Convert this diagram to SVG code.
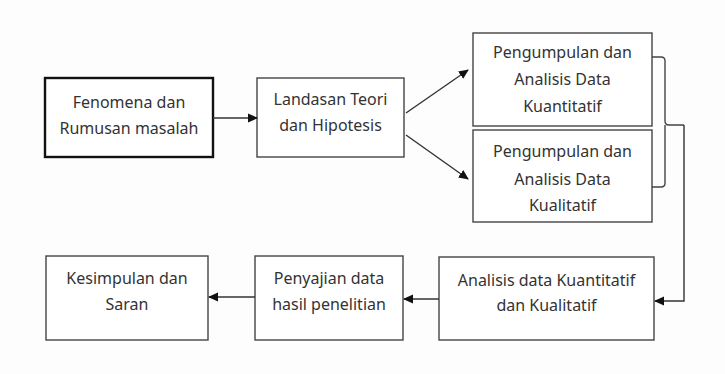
<svg xmlns="http://www.w3.org/2000/svg" width="725" height="374" viewBox="0 0 725 374">
<style>
.bg{fill:#fdfdfd}
.box{fill:#ffffff;stroke:#444;stroke-width:1.4}
.thick{fill:#ffffff;stroke:#111;stroke-width:2.4}
.t{font-family:"Noto Sans","Liberation Sans",sans-serif;font-size:16px;fill:#333;text-anchor:middle;font-variant-ligatures:none}
.ln{fill:none;stroke:#444;stroke-width:1.4}
.ar{fill:none;stroke:#333;stroke-width:1.4;marker-end:url(#ah)}
</style>
<defs>
<marker id="ah" markerWidth="10" markerHeight="10" refX="9" refY="5" orient="auto" markerUnits="userSpaceOnUse">
<path d="M0,0.5 L10,5 L0,9.5 Z" fill="#111"/>
</marker>
</defs>
<rect class="bg" x="0" y="0" width="725" height="374"/>
<g id="n1">
<rect class="thick" x="45" y="78" width="168" height="79"/>
<text class="t" x="129" y="108">Fenomena dan</text>
<text class="t" x="129" y="134">Rumusan masalah</text>
</g>
<g id="n2">
<rect class="box" x="257" y="78" width="147" height="79"/>
<text class="t" x="330.5" y="105">Landasan Teori</text>
<text class="t" x="330.5" y="131">dan Hipotesis</text>
</g>
<g id="n3">
<rect class="box" x="473" y="33" width="179" height="93"/>
<text class="t" x="562.5" y="58">Pengumpulan dan</text>
<text class="t" x="562.5" y="85">Analisis Data</text>
<text class="t" x="562.5" y="112">Kuantitatif</text>
</g>
<g id="n4">
<rect class="box" x="473" y="130" width="179" height="92"/>
<text class="t" x="562.5" y="157">Pengumpulan dan</text>
<text class="t" x="562.5" y="185">Analisis Data</text>
<text class="t" x="562.5" y="211">Kualitatif</text>
</g>
<g id="n5">
<rect class="box" x="439" y="257" width="215" height="83"/>
<text class="t" x="546.5" y="286">Analisis data Kuantitatif</text>
<text class="t" x="546.5" y="311">dan Kualitatif</text>
</g>
<g id="n6">
<rect class="box" x="255" y="256" width="148" height="84"/>
<text class="t" x="329" y="284">Penyajian data</text>
<text class="t" x="329" y="310">hasil penelitian</text>
</g>
<g id="n7">
<rect class="box" x="46" y="256" width="162" height="84"/>
<text class="t" x="127" y="284">Kesimpulan dan</text>
<text class="t" x="127" y="310">Saran</text>
</g>
<g id="connectors">
<line class="ar" x1="213" y1="118" x2="257" y2="118"/>
<line class="ar" x1="406" y1="113" x2="468" y2="70"/>
<line class="ar" x1="406" y1="135" x2="468" y2="179"/>
<path class="ln" d="M652,57 H661 Q665,57 665,61 V121 Q665,125 669,125 H684 M665,125 Q665,129 665,133 V183 Q665,187 661,187 H652"/>
<path class="ar" d="M684,125 V301 H655"/>
<line class="ar" x1="439" y1="299" x2="404" y2="299"/>
<line class="ar" x1="255" y1="297" x2="209" y2="297"/>
</g>
</svg>
